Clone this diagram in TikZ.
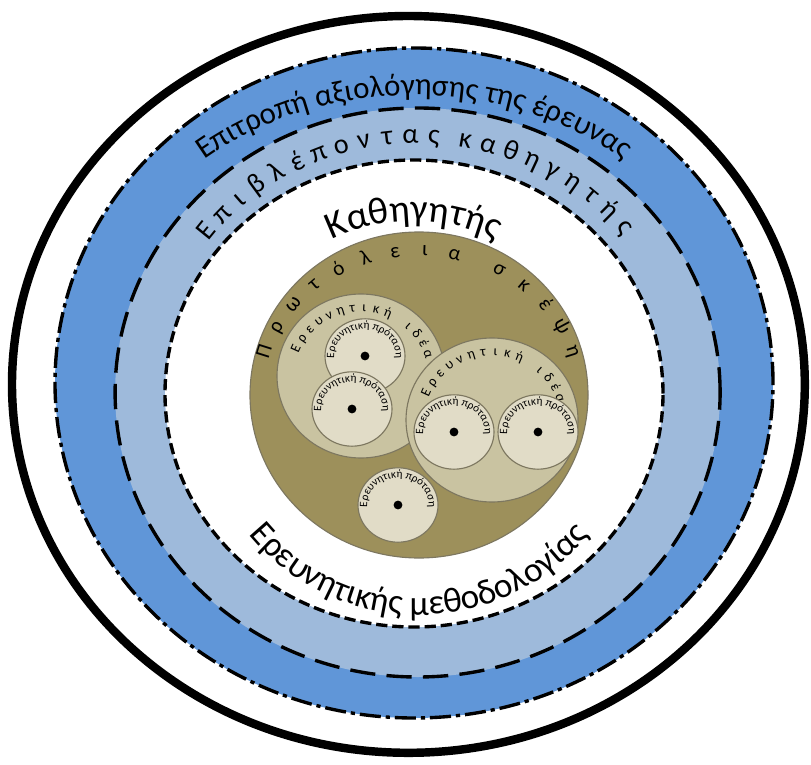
\documentclass[tikz,border=0pt]{standalone}
\usepackage{fontspec}
\setmainfont{Carlito}
\usetikzlibrary{calc, decorations.text}
\definecolor{commblue}{HTML}{6096D8}
\definecolor{supblue}{HTML}{9EBADB}
\definecolor{thought}{HTML}{9D905B}
\definecolor{idea}{HTML}{C9C3A1}
\definecolor{proposal}{HTML}{E1DCC7}
\definecolor{rim}{HTML}{7D7760}

\newcommand\commfont{\fontsize{22}{27}\selectfont}
\newcommand\proffont{\fontsize{27}{32}\selectfont}
\newcommand\methfont{\fontsize{25}{30}\selectfont}
\newcommand\propfont{\fontsize{8}{10}\selectfont}

\tikzset{
  suplet/.style={anchor=base, inner sep=0pt, font=\fontsize{20}{24}\selectfont},
  thoughtlet/.style={anchor=base, inner sep=0pt, font=\fontsize{15}{18}\selectfont},
  idealet/.style={anchor=base, inner sep=0pt, font=\fontsize{10}{12}\selectfont},
  ringline/.style={line width=2.4pt},
  bubble/.style={draw=rim, line width=0.8pt}
}

\begin{document}
\begin{tikzpicture}

\useasboundingbox (0,0) rectangle (20.275,19.1);
\fill[white] (0,0) rectangle (20.275,19.1);

% Centres of the rings
\coordinate (ring) at (10.21,9.49);
\coordinate (comm) at (10.35,9.525);
\coordinate (sup) at (10.44,9.2875);
\coordinate (prof) at (10.35,9.2625);

% Outer black ring
\draw[line width=6pt] (ring) ellipse [x radius=9.91, y radius=9.21];

% Bands
\fill[commblue] (comm) ellipse [x radius=8.975, y radius=8.375];
\fill[supblue] (sup) ellipse [x radius=7.5625, y radius=7.1125];
\fill[white] (prof) ellipse [x radius=6.225, y radius=5.8375];

\draw[ringline, dash pattern=on 15pt off 3.5pt on 3pt off 3.5pt] (comm) ellipse [x radius=8.975, y radius=8.375];
\draw[ringline, dash pattern=on 18pt off 8pt] (sup) ellipse [x radius=7.5625, y radius=7.1125];
\draw[ringline, dash pattern=on 8pt off 3.5pt] (prof) ellipse [x radius=6.225, y radius=5.8375];

% Committee text
\path[decorate, decoration={text along path, text align=center,
    text={|\commfont|Επιτροπή αξιολόγησης της έρευνας}}]
  (10.35,9.625) ++(150:8.25 and 7.1) arc[start angle=150, end angle=30, x radius=8.25, y radius=7.1];

% Supervisor text, letter by letter
\foreach \ch [count=\i from 0] in {Ε,π,ι,β,λ,έ,π,ο,ν,τ,α,ς} {
  \pgfmathsetmacro\ang{141-4.95*\i}
  \node[suplet, rotate=\ang-90] (sa\i) at ($(sup)+(\ang:6.6 and 6.225)$) {\ch};
}
\foreach \ch [count=\i from 0] in {κ,α,θ,η,γ,η,τ,ή,ς} {
  \pgfmathsetmacro\ang{79.85-4.95*\i}
  \node[suplet, rotate=\ang-90] (sb\i) at ($(sup)+(\ang:6.6 and 6.225)$) {\ch};
}

% Professor and methodology texts
\path[decorate, decoration={text along path, text align=center,
    text={|\proffont|Καθηγητής}}]
  (10.35,8.9) ++(140:4.675) arc[start angle=140, end angle=40, radius=4.675];
\path[decorate, decoration={text along path, text align=center,
    text={|\methfont|Ερευνητικής μεθοδολογίας}}]
  (10.475,9.225) ++(200:5.5) arc[start angle=200, end angle=340, radius=5.5];

% Early thought
\coordinate (big) at (10.475,9.225);
\draw[bubble, fill=thought] (big) ellipse [x radius=4.225, y radius=4.075];
\foreach \ch [count=\i from 0] in {Π,ρ,ω,τ,ό,λ,ε,ι,α} {
  \pgfmathsetmacro\ang{162.5-10.66*\i}
  \node[thoughtlet, rotate=\ang-90] (ta\i) at ($(big)+(\ang:3.9 and 3.475)$) {\ch};
}
\foreach \ch [count=\i from 0] in {σ,κ,έ,ψ,η} {
  \pgfmathsetmacro\ang{60.1-10.66*\i}
  \node[thoughtlet, rotate=\ang-90] (tb\i) at ($(big)+(\ang:3.9 and 3.475)$) {\ch};
}

% Research ideas and proposals
\coordinate (idl) at (9.025,9.7);
\coordinate (idr) at (12.3,8.6);
\coordinate (p1) at (9.125,10.2);
\coordinate (p2) at (8.8,8.875);
\coordinate (p3) at (11.35,8.3);
\coordinate (p4) at (13.45,8.3);
\coordinate (p5) at (9.95,6.475);

\draw[bubble, fill=idea] (idl) ellipse [x radius=2.1, y radius=2.05];
\foreach \ch [count=\i from 0] in {Ε,ρ,ε,υ,ν,η,τ,ι,κ,ή} {
  \pgfmathsetmacro\ang{155.9-9.8*\i}
  \node[idealet, rotate=\ang-90] (la\i) at ($(idl)+(\ang:1.675 and 1.6)$) {\ch};
}
\foreach \ch [count=\i from 0] in {ι,δ,έ,α} {
  \pgfmathsetmacro\ang{48.1-9.8*\i}
  \node[idealet, rotate=\ang-90] (lb\i) at ($(idl)+(\ang:1.675 and 1.6)$) {\ch};
}

\foreach \p in {p1,p2} {
  \draw[bubble, fill=proposal] (\p) ellipse [x radius=1, y radius=0.93];
  \fill (\p) circle (0.11);
  \path[decorate, decoration={text along path, text align=center,
      text={|\propfont|Ερευνητική πρόταση}}]
    (\p) ++(200:0.77 and 0.68) arc[start angle=200, end angle=-20, x radius=0.77, y radius=0.68];
}

\draw[bubble, fill=idea] (idr) ellipse [x radius=2.15, y radius=2.05];
\foreach \ch [count=\i from 0] in {Ε,ρ,ε,υ,ν,η,τ,ι,κ,ή} {
  \pgfmathsetmacro\ang{155.9-9.8*\i}
  \node[idealet, rotate=\ang-90] (ra\i) at ($(idr)+(\ang:1.7 and 1.6)$) {\ch};
}
\foreach \ch [count=\i from 0] in {ι,δ,έ,α} {
  \pgfmathsetmacro\ang{48.1-9.8*\i}
  \node[idealet, rotate=\ang-90] (rb\i) at ($(idr)+(\ang:1.7 and 1.6)$) {\ch};
}

\foreach \p in {p3,p4,p5} {
  \draw[bubble, fill=proposal] (\p) ellipse [x radius=1, y radius=0.93];
  \fill (\p) circle (0.11);
  \path[decorate, decoration={text along path, text align=center,
      text={|\propfont|Ερευνητική πρόταση}}]
    (\p) ++(200:0.77 and 0.68) arc[start angle=200, end angle=-20, x radius=0.77, y radius=0.68];
}

\end{tikzpicture}
\end{document}
